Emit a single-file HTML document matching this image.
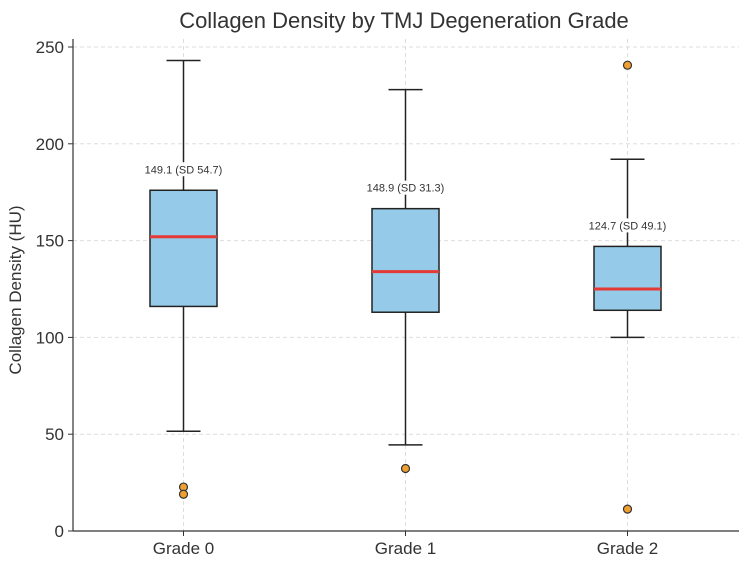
<!DOCTYPE html>
<html><head><meta charset="utf-8"><style>
body{margin:0;background:#fff;}
svg text{font-family:"Liberation Sans","DejaVu Sans",sans-serif;}
</style></head><body>
<svg id="chart" width="744" height="556" xmlns="http://www.w3.org/2000/svg">
<text x="404" y="28" font-size="22" text-anchor="middle" fill="#333">Collagen Density by TMJ Degeneration Grade</text>
<text transform="translate(21,290) rotate(-90)" font-size="17" text-anchor="middle" fill="#333">Collagen Density (HU)</text>
<g id="grid"></g><g id="marks"></g><g id="axes"></g>
</svg>
<script>
const categories=["Grade 0","Grade 1","Grade 2"];
const whiskerHigh=[243,228,192];
const q3=[176,166.5,147];
const medians=[152,134,125];
const q1=[116,113,114];
const whiskerLow=[51.5,44.5,100];
const outliers=[[22.7,19],[32.3],[240.6,11.3]];
const meanLabels=["149.1 (SD 54.7)","148.9 (SD 31.3)","124.7 (SD 49.1)"];
const yTicks=[0,50,100,150,200,250];

const NS="http://www.w3.org/2000/svg";
const L=73,R=739,B=531,T=47;
function y(v){return B-(v/250)*(B-T);}
function x(i){return 183.5+i*222;}
function el(tag,attrs,parent,text){const e=document.createElementNS(NS,tag);for(const k in attrs)e.setAttribute(k,attrs[k]);if(text!==undefined)e.textContent=text;parent.appendChild(e);return e;}
const grid=document.getElementById('grid'),marks=document.getElementById('marks'),axes=document.getElementById('axes');
yTicks.forEach(t=>{
 if(t>0){const g=el('line',{x1:L,x2:R,y1:y(t),y2:y(t),stroke:'#ddd','stroke-dasharray':'4,3'},grid);
 
 }
 el('line',{x1:L-5,x2:L,y1:y(t),y2:y(t),stroke:'#333'},axes);
 const tl=el('text',{x:L-9,y:y(t)+6,'font-size':17,'text-anchor':'end',fill:'#333'},axes,String(t));
 
 
});
categories.forEach((c,i)=>{
 const cx=x(i),hw=33.5,cw=17;
 const vg=el('line',{x1:cx,x2:cx,y1:T-8,y2:B,stroke:'#ddd','stroke-dasharray':'4,3'},grid);
 
 
 const g=el('g',{},marks);
 
 
 el('line',{x1:cx,x2:cx,y1:y(whiskerHigh[i]),y2:y(q3[i]),stroke:'#222','stroke-width':1.5},g);
 el('line',{x1:cx,x2:cx,y1:y(q1[i]),y2:y(whiskerLow[i]),stroke:'#222','stroke-width':1.5},g);
 el('line',{x1:cx-cw,x2:cx+cw,y1:y(whiskerHigh[i]),y2:y(whiskerHigh[i]),stroke:'#222','stroke-width':1.5},g);
 el('line',{x1:cx-cw,x2:cx+cw,y1:y(whiskerLow[i]),y2:y(whiskerLow[i]),stroke:'#222','stroke-width':1.5},g);
 el('rect',{x:cx-hw,y:y(q3[i]),width:hw*2,height:y(q1[i])-y(q3[i]),fill:'#95cbe8',stroke:'#222','stroke-width':1.5},g);
 el('line',{x1:cx-hw,x2:cx+hw,y1:y(medians[i]),y2:y(medians[i]),stroke:'#e53935','stroke-width':3},g);
 outliers[i].forEach(o=>{const p=el('circle',{cx:cx,cy:y(o),r:4,fill:'#f0a030',stroke:'#333','stroke-width':1.2},g);
  
  });
 const ly=y(q3[i])-21;
 el('rect',{x:cx-40,y:ly-7,width:80,height:14,fill:'#fff'},g);
 const lt=el('text',{x:cx,y:ly+4,'font-size':11,'text-anchor':'middle',fill:'#333'},g,meanLabels[i]);
 
 
 el('line',{x1:cx,x2:cx,y1:B,y2:B+5,stroke:'#333'},axes);
 const xl=el('text',{x:cx,y:B+23,'font-size':17,'text-anchor':'middle',fill:'#333'},axes,c);
 
 
});
const ya=el('line',{x1:L,x2:L,y1:T-8,y2:B,stroke:'#333','stroke-width':1.2},axes);


const xa=el('line',{x1:L,x2:R,y1:B,y2:B,stroke:'#333','stroke-width':1.2},axes);


</script>
</body></html>
